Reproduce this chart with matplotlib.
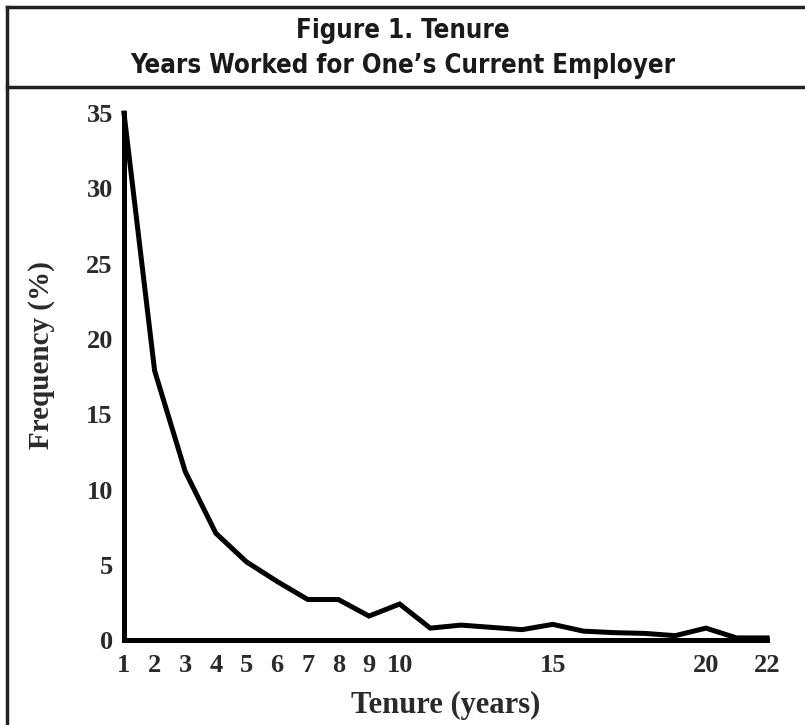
import matplotlib.pyplot as plt
from matplotlib.lines import Line2D

# Tenure data
tenure_years = list(range(1, 23))
frequency_pct = [35.0, 17.9, 11.2, 7.1, 5.2, 3.9, 2.7, 2.7, 1.6, 2.4, 0.8,
                 1.0, 0.85, 0.7, 1.05, 0.6, 0.5, 0.45, 0.3, 0.8, 0.15, 0.15]
x_ticks = [1, 2, 3, 4, 5, 6, 7, 8, 9, 10, 15, 20, 22]
y_ticks = [0, 5, 10, 15, 20, 25, 30, 35]

title_line1 = "Figure 1. Tenure"
title_line2 = "Years Worked for One\u2019s Current Employer"

serif = ['Liberation Serif', 'DejaVu Serif']
sans = ['DejaVu Sans']

fig = plt.figure(figsize=(8.05, 7.25), dpi=100)
ax = fig.add_axes([0.154, 0.117, 0.799, 0.727])

ax.plot(tenure_years, frequency_pct, color='black', linewidth=3.6,
        solid_joinstyle='miter', clip_on=False)

ax.set_xlim(1, 22)
ax.set_ylim(0, 35)
ax.set_xticks(x_ticks)
ax.set_yticks(y_ticks)

for side in ['top', 'right']:
    ax.spines[side].set_visible(False)
for side in ['left', 'bottom']:
    ax.spines[side].set_linewidth(3.6)
    ax.spines[side].set_color('black')

ax.tick_params(length=0, labelsize=19, labelcolor='#2a2a2a')
ax.tick_params(axis='y', pad=8)
ax.tick_params(axis='x', pad=10)
for lbl in ax.get_xticklabels() + ax.get_yticklabels():
    lbl.set_family(serif)
    lbl.set_fontweight('bold')

ax.set_xlabel("Tenure (years)", fontsize=22, family=serif, fontweight='bold',
              color='#2a2a2a', labelpad=10)
ax.set_ylabel("Frequency (%)", fontsize=21, family=serif, fontweight='bold',
              color='#2a2a2a')
ax.yaxis.set_label_coords(-0.108, 0.54)

# title box and frame
fig.text(0.5, 1 - 31 / 725, title_line1, ha='center', va='center',
         fontsize=18.5, fontweight='bold', fontstretch='condensed',
         family=sans, color='#1a1a1a')
fig.text(0.5, 1 - 66 / 725, title_line2, ha='center', va='center',
         fontsize=18.5, fontweight='bold', fontstretch='condensed',
         family=sans, color='#1a1a1a')

frame_kw = dict(color='#222222', linewidth=2.5, transform=fig.transFigure)
fig.add_artist(Line2D([7 / 805, 1], [1 - 7 / 725, 1 - 7 / 725], **frame_kw))
fig.add_artist(Line2D([7 / 805, 1], [1 - 87 / 725, 1 - 87 / 725], **frame_kw))
fig.add_artist(Line2D([7 / 805, 7 / 805], [0, 1 - 7 / 725], **frame_kw))

fig.savefig("out.png", dpi=100)
